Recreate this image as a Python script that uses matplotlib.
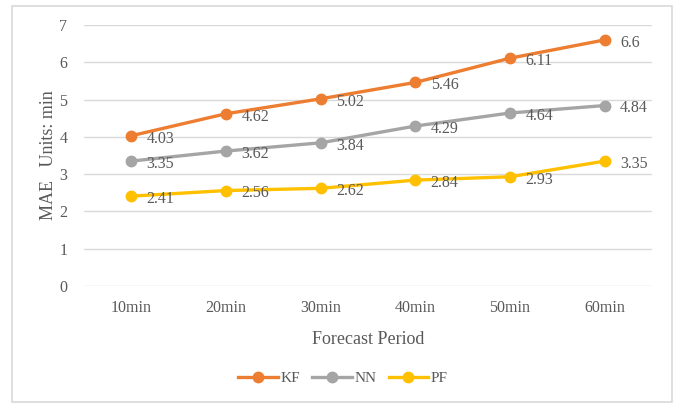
import matplotlib
matplotlib.use("Agg")
import matplotlib.pyplot as plt
from matplotlib.patches import Rectangle

periods = ["10min", "20min", "30min", "40min", "50min", "60min"]
kf = [4.03, 4.62, 5.02, 5.46, 6.11, 6.6]
nn = [3.35, 3.62, 3.84, 4.29, 4.64, 4.84]
pf = [2.41, 2.56, 2.62, 2.84, 2.93, 3.35]

series = [("KF", kf, "#ED7D31"), ("NN", nn, "#A5A5A5"), ("PF", pf, "#FFC000")]
text_color = "#595959"

plt.rcParams["font.family"] = ["Liberation Serif", "DejaVu Serif"]

W, H = 678, 403
fig = plt.figure(figsize=(W / 100, H / 100), dpi=100)
ax = fig.add_axes([84 / W, 1 - 286 / H, (652 - 84) / W, (286 - 25) / H])

# outer chart border
fig.patches.append(Rectangle((12 / W, 1 / H), (672 - 12) / W, (402 - 6) / H,
                             transform=fig.transFigure, fill=False,
                             edgecolor="#D9D9D9", linewidth=1.2))

x = list(range(len(periods)))
for name, vals, color in series:
    ax.plot(x, vals, color=color, linewidth=2.4, marker="o", markersize=7.5,
            label=name, zorder=3)
    for xi, v in zip(x, vals):
        ax.annotate(f"{v:g}", (xi, v), xytext=(11, -2), textcoords="offset points",
                    ha="left", va="center", fontsize=11.5, color=text_color)

ax.set_xlim(-0.5, len(periods) - 0.5)
ax.set_ylim(0, 7)
ax.set_yticks(range(0, 8))
ax.set_xticks(x)
ax.set_xticklabels(periods)
ax.grid(axis="y", color="#D9D9D9", linewidth=1)
ax.set_axisbelow(True)
for s in ax.spines.values():
    s.set_visible(False)
ax.tick_params(length=0, labelsize=11.5, colors=text_color, pad=10)
ax.tick_params(axis="y", pad=12)

ax.set_xlabel("Forecast Period", fontsize=13, color=text_color, labelpad=11)
ax.set_ylabel("MAE   Units: min", fontsize=13, color=text_color, labelpad=2)

leg = fig.legend(loc="center", bbox_to_anchor=(343 / W, 1 - 378 / H), ncol=3,
                 frameon=False, fontsize=11, handlelength=2.6, columnspacing=0.8,
                 handletextpad=0.15)
for t in leg.get_texts():
    t.set_color(text_color)

fig.savefig("out.png", dpi=100)
